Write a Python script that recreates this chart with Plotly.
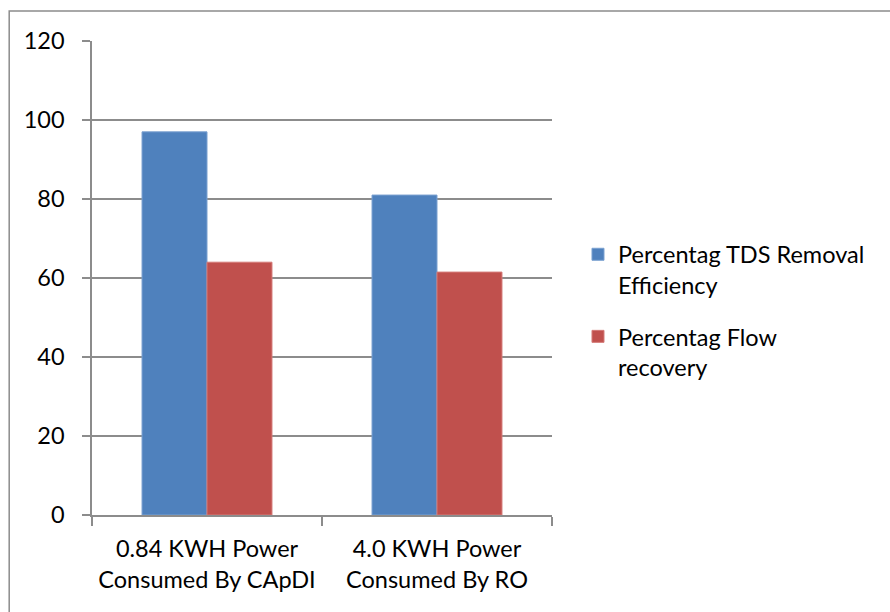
import plotly.graph_objects as go

# Energy use vs. performance for the two desalination set-ups
categories = ["0.84 KWH Power<br>Consumed By CApDI", "4.0 KWH Power<br>Consumed By RO"]
tds_removal = [97.0, 81.0]
flow_recovery = [64.0, 61.5]
series_names = ["Percentag TDS Removal<br>Efficiency", "Percentag Flow<br>recovery"]
y_ticks = [0, 20, 40, 60, 80, 100, 120]

FONT = "Lato"
GRID = "#8c8c8c"

fig = go.Figure()
fig.add_trace(go.Bar(x=categories, y=tds_removal, name=series_names[0], legendgroup="tds",
                     marker=dict(color="#4f81bd", line=dict(color="#7aa0d0", width=1))))
fig.add_trace(go.Bar(x=categories, y=flow_recovery, name=series_names[1], legendgroup="flow",
                     marker=dict(color="#c0504d", line=dict(color="#d47a78", width=1))))

fig.update_layout(
    width=890, height=612,
    margin=dict(l=92, r=338, t=41, b=97),
    paper_bgcolor="white", plot_bgcolor="white",
    barmode="group", bargap=0.435, bargroupgap=0,
    font=dict(family=FONT, size=23.5, color="#000000"),
    legend=dict(x=1.0565, y=0.596, xanchor="left", yanchor="top",
                font=dict(family=FONT, size=23.5), valign="top",
                traceorder="grouped", tracegroupgap=18, itemwidth=30),
    showlegend=True,
)
fig.update_yaxes(range=[0, 120], tickvals=y_ticks, showgrid=True, gridcolor=GRID,
                 gridwidth=1.5, showline=True, linecolor=GRID, linewidth=1.5,
                 ticks="outside", ticklen=8, tickcolor=GRID, tickwidth=1.5,
                 ticklabelstandoff=13, zeroline=False)
fig.update_xaxes(showline=True, linecolor=GRID, linewidth=1.5, ticks="outside",
                 tickson="boundaries", ticklen=9, tickcolor=GRID, tickwidth=1.5,
                 ticklabelstandoff=12, showgrid=False)

# outer chart frame (runs past the right and bottom edges of the page)
fig.add_shape(type="rect", xref="paper", yref="paper", x0=-0.180, x1=3.0, y0=-1.0,
              y1=1.0 + 30 / 474, line=dict(color="#8c8c8c", width=1.5), layer="below")

fig.write_html("out.html")
